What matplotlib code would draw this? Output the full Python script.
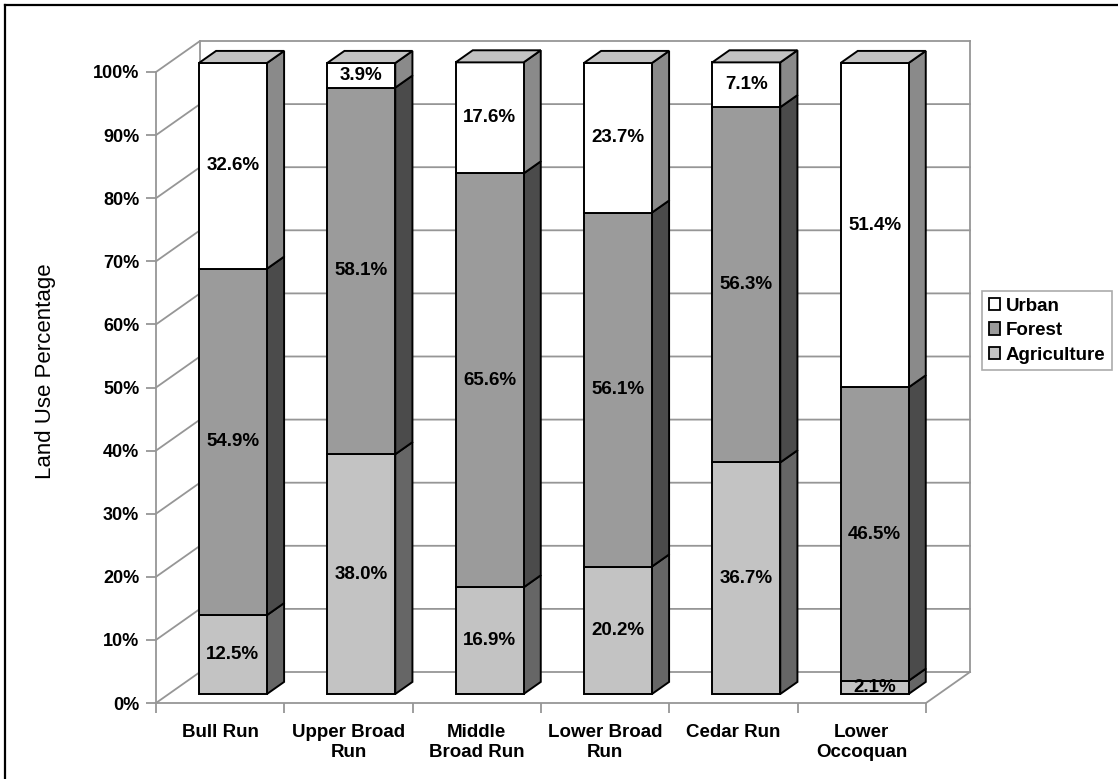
import matplotlib
matplotlib.use("Agg")
import matplotlib.pyplot as plt
from matplotlib.patches import Polygon, Patch
from matplotlib.lines import Line2D

plt.rcParams['font.family'] = ['Liberation Sans', 'DejaVu Sans']

# ---- data -------------------------------------------------------------
categories = ["Bull Run", "Upper Broad\nRun", "Middle\nBroad Run",
              "Lower Broad\nRun", "Cedar Run", "Lower\nOccoquan"]
agriculture = [12.5, 38.0, 16.9, 20.2, 36.7, 2.1]
forest = [54.9, 58.1, 65.6, 56.1, 56.3, 46.5]
urban = [32.6, 3.9, 17.6, 23.7, 7.1, 51.4]
series_names = ["Agriculture", "Forest", "Urban"]
y_ticks = list(range(0, 101, 10))

# ---- styling ----------------------------------------------------------
front_col = {"Agriculture": "#c3c3c3", "Forest": "#9b9b9b", "Urban": "#ffffff"}
side_col = {"Agriculture": "#666666", "Forest": "#4b4b4b", "Urban": "#8a8a8a"}
top_col = {"Agriculture": "#d0d0d0", "Forest": "#b0b0b0", "Urban": "#c2c2c2"}
grid_col = "#969696"

W, H = 1118, 779
fig = plt.figure(figsize=(W / 100, H / 100), dpi=100)
fig.patch.set_facecolor("white")

# plot frame (front plane) in pixels: x 156..926, y 703..72
left, right, bottom, top = 156, 926, 703, 72
ax = fig.add_axes([left / W, 1 - bottom / H, (right - left) / W, (bottom - top) / H])
ax.set_xlim(0, 6)
ax.set_ylim(0, 100)
ax.set_facecolor("none")

# oblique depth offset (full depth) in data units
DX = 44 / ((right - left) / 6)
DY = 31 / ((bottom - top) / 100)


def proj(x, y, d):
    return (x + d * DX, y + d * DY)


# ---- walls and gridlines ---------------------------------------------
n = len(categories)
ymax = y_ticks[-1]
wall = Polygon([proj(0, 0, 1), proj(n, 0, 1), proj(n, ymax, 1), proj(0, ymax, 1)],
               closed=True, facecolor="white", edgecolor="none", zorder=0, clip_on=False)
ax.add_patch(wall)
glw = 1.3
for v in y_ticks:
    p0, p1, p2 = proj(0, v, 0), proj(0, v, 1), proj(n, v, 1)
    ax.add_line(Line2D([p0[0], p1[0], p2[0]], [p0[1], p1[1], p2[1]],
                       color=grid_col, lw=glw, zorder=1, clip_on=False))
for xv in (0, n):
    a, b = proj(xv, 0, 1), proj(xv, ymax, 1)
    ax.add_line(Line2D([a[0], b[0]], [a[1], b[1]], color=grid_col, lw=glw,
                       zorder=1, clip_on=False))
a, b = proj(n, 0, 0), proj(n, 0, 1)
ax.add_line(Line2D([a[0], b[0]], [a[1], b[1]], color=grid_col, lw=glw,
                   zorder=1, clip_on=False))

# ---- 3D stacked bars ---------------------------------------------------
bar_half = 0.265
d0, d1 = 0.29, 0.68
values = {"Agriculture": agriculture, "Forest": forest, "Urban": urban}
elw = 1.4
for i in range(n):
    x0, x1 = i + 0.5 - bar_half, i + 0.5 + bar_half
    base = 0.0
    total = sum(values[s][i] for s in series_names)
    for s in series_names:
        v = values[s][i]
        b, t = base, base + v
        front = Polygon([proj(x0, b, d0), proj(x1, b, d0), proj(x1, t, d0), proj(x0, t, d0)],
                        closed=True, facecolor=front_col[s], edgecolor="black",
                        lw=elw, zorder=3, clip_on=False, joinstyle="miter")
        side = Polygon([proj(x1, b, d0), proj(x1, b, d1), proj(x1, t, d1), proj(x1, t, d0)],
                       closed=True, facecolor=side_col[s], edgecolor="black",
                       lw=elw, zorder=3, clip_on=False, joinstyle="miter")
        ax.add_patch(side)
        ax.add_patch(front)
        if abs(t - total) < 1e-9:
            lid = Polygon([proj(x0, t, d0), proj(x1, t, d0), proj(x1, t, d1), proj(x0, t, d1)],
                          closed=True, facecolor=top_col[s], edgecolor="black",
                          lw=elw, zorder=3, clip_on=False, joinstyle="miter")
            ax.add_patch(lid)
        lx, ly = proj(i + 0.5, (b + t) / 2, d0)
        txt = ax.text(lx, ly, f"{v:.1f}%", ha="center", va="center",
                      fontsize=13.5, fontweight="bold", color="black", zorder=4)
        txt.set_clip_path(front)
        base = t

# ---- axes, ticks, labels ----------------------------------------------
for sp in ("top", "right"):
    ax.spines[sp].set_visible(False)
for sp in ("left", "bottom"):
    ax.spines[sp].set_color(grid_col)
    ax.spines[sp].set_linewidth(glw)
    ax.spines[sp].set_zorder(2)

ax.set_yticks(y_ticks)
ax.set_yticklabels([f"{v}%" for v in y_ticks])
ax.tick_params(axis="y", direction="out", length=7, width=glw, color=grid_col,
               pad=5, labelsize=13)
for lab in ax.get_yticklabels():
    lab.set_fontweight("bold")

ax.set_xticks(range(n + 1))
ax.set_xticklabels([])
ax.tick_params(axis="x", which="major", direction="out", length=7, width=glw,
               color=grid_col)
ax.set_xticks([i + 0.5 for i in range(n)], minor=True)
ax.set_xticklabels(categories, minor=True, fontsize=13.5, fontweight="bold",
                   linespacing=1.25)
ax.tick_params(axis="x", which="minor", length=0, pad=15)

fig.text(46 / W, 1 - 371 / H, "Land Use Percentage", rotation=90,
         ha="center", va="center", fontsize=16)

# ---- legend -----------------------------------------------------------
handles = [Patch(facecolor=front_col[s], edgecolor="black", lw=1.3)
           for s in ["Urban", "Forest", "Agriculture"]]
leg = fig.legend(handles, ["Urban", "Forest", "Agriculture"],
                 loc="upper left", bbox_to_anchor=(982 / W, 1 - 291 / H),
                 prop={"weight": "bold", "size": 13.5}, frameon=True,
                 fancybox=False, handlelength=0.62, handleheight=0.62,
                 handletextpad=0.3, labelspacing=0.4, borderpad=0.35,
                 borderaxespad=0.0)
leg.get_frame().set_edgecolor(grid_col)
leg.get_frame().set_linewidth(1.2)

# ---- outer border (left and top edges) -------------------------------
fig.add_artist(Line2D([5 / W, 5 / W], [0, 1 - 5 / H], color="black", lw=1.6,
                      transform=fig.transFigure))
fig.add_artist(Line2D([5 / W, 1], [1 - 5 / H, 1 - 5 / H], color="black", lw=1.6,
                      transform=fig.transFigure))

fig.savefig("out.png", dpi=100)
